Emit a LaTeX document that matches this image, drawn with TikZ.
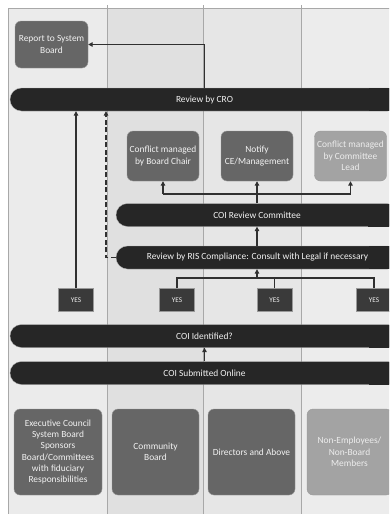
\documentclass[tikz,border=0pt]{standalone}
\usepackage{fontspec}
\setmainfont{Carlito}
\usetikzlibrary{arrows.meta}
\definecolor{laneA}{HTML}{EBEBEB}
\definecolor{laneB}{HTML}{E0E0E0}
\definecolor{laneC}{HTML}{E6E6E6}
\definecolor{laneD}{HTML}{ECECEC}
\definecolor{laneline}{HTML}{A8A8A8}
\definecolor{bardark}{HTML}{262626}
\definecolor{boxgrey}{HTML}{666666}
\definecolor{boxlight}{HTML}{A3A3A3}
\definecolor{yesdark}{HTML}{3A3A3A}
\definecolor{linedark}{HTML}{303030}
\definecolor{txtlight}{HTML}{F2F2F2}
\tikzset{
  lanesep/.style={draw=laneline, line width=0.9pt},
  bar/.style={fill=bardark, draw=gray!60, line width=0.3pt, rounded corners=11.5pt, minimum height=23pt, inner sep=0pt, text=txtlight, font=\fontsize{9.4}{11.3}\selectfont},
  box/.style={fill=boxgrey, draw=gray!80, line width=0.4pt, rounded corners=6pt, inner sep=0pt, align=center, text=txtlight, font=\fontsize{9.4}{11.3}\selectfont},
  lightbox/.style={box, fill=boxlight, text=white!93!black},
  yesbox/.style={fill=yesdark, draw=gray!80, line width=0.4pt, minimum width=35pt, minimum height=23pt, inner sep=0pt, text=txtlight, font=\fontsize{7.2}{8}\selectfont},
  conn/.style={draw=linedark, line width=1.1pt},
  arr/.style={conn, -{Triangle[length=4.5pt,width=4.5pt]}},
  darr/.style={arr, dash pattern=on 5pt off 2.5pt},
  barend/.style={fill=bardark}
}
\begin{document}
\begin{tikzpicture}[x=1pt,y=-1pt]
\useasboundingbox (0,0) rectangle (389,514);
\clip (0,0) rectangle (389,514);
% lanes
\fill[white] (0,0) rectangle (389,514);
\fill[laneA] (8,8) rectangle (107,520);
\fill[laneB] (107,8) rectangle (203.5,520);
\fill[laneC] (203.5,8) rectangle (301,520);
\fill[laneD] (301,8) rectangle (395,520);
\draw[lanesep] (8,520) -- (8,8) -- (395,8);
\draw[lanesep] (107,5) -- (107,520);
\draw[lanesep] (203.5,5) -- (203.5,520);
\draw[lanesep] (301,5) -- (301,520);
% bars
\node[bar, minimum width=389pt] (cro) at (204.5,99.5) {Review by CRO};
\node[bar, minimum width=282pt] (crev) at (257,215) {COI Review Committee};
\node[bar, minimum width=283pt] (ris) at (257.5,257.5) {Review by RIS Compliance: Consult with Legal if necessary};
\node[bar, minimum width=389pt] (ident) at (204.5,336) {COI Identified?};
\node[bar, minimum width=389pt] (sub) at (204.5,373) {COI Submitted Online};
% square off the right ends, which run past the page edge
\foreach \b in {cro,crev,ris,ident,sub}{
  \fill[barend] ([xshift=-30pt,yshift=-0.15pt]\b.north east) rectangle ([xshift=20pt,yshift=0.15pt]\b.south east);
}
% boxes
\node[box, minimum width=73pt, minimum height=47pt] (report) at (51.5,44.5) {Report to System\\Board};
\node[box, minimum width=72pt, minimum height=50pt] (bchair) at (163,156) {Conflict managed\\by Board Chair};
\node[box, minimum width=72pt, minimum height=50pt] (notify) at (257,156) {Notify\\CE/Management};
\node[lightbox, minimum width=72pt, minimum height=50pt] (clead) at (350.5,156) {Conflict managed\\by Committee\\Lead};
% YES
\node[yesbox] (y1) at (76,300) {YES};
\node[yesbox] (y2) at (177,300) {YES};
\node[yesbox] (y3) at (274.5,300) {YES};
\node[yesbox] (y4) at (374,300) {YES};
% bottom boxes
\node[box, minimum width=88pt, minimum height=86pt] (exec) at (58,452) {Executive Council\\System Board\\Sponsors\\Board/Committees\\with fiduciary\\Responsibilities};
\node[box, minimum width=87pt, minimum height=86pt] (comm) at (155.5,452) {Community\\Board};
\node[box, minimum width=87pt, minimum height=86pt] (dir) at (251.5,452) {Directors and Above};
\node[lightbox, minimum width=85pt, minimum height=86pt] (nonemp) at (349.5,452) {Non-Employees/\\Non-Board\\Members};
% junctions
\coordinate (j1) at (257,194);
\coordinate (j2) at (257,278);
\coordinate (dd) at (106,257.5);
% connectors
\draw[arr] (cro.north) |- (report.east);
\draw[arr] (y1.north) -- (y1.north |- cro.south);
\draw[darr] (ris.west) -- (dd) -- (dd |- cro.south);
\draw[arr] (crev.north) -- (notify.south);
\draw[conn] (j1 -| bchair.south) -- (j1 -| clead.south);
\draw[arr] (j1 -| bchair.south) -- (bchair.south);
\draw[arr] (j1 -| clead.south) -- (clead.south);
\draw[arr] (ris.north -| j1) -- (crev.south -| j1);
\draw[conn] (y2.north) -- (y2.north |- j2) -- (y4.north |- j2) -- (y4.north);
\draw[conn] (y3.north) -- (y3.north |- j2);
\draw[arr] (j2) -- (j2 |- ris.south);
\draw[arr] (sub.north) -- (ident.south);
\end{tikzpicture}
\end{document}
